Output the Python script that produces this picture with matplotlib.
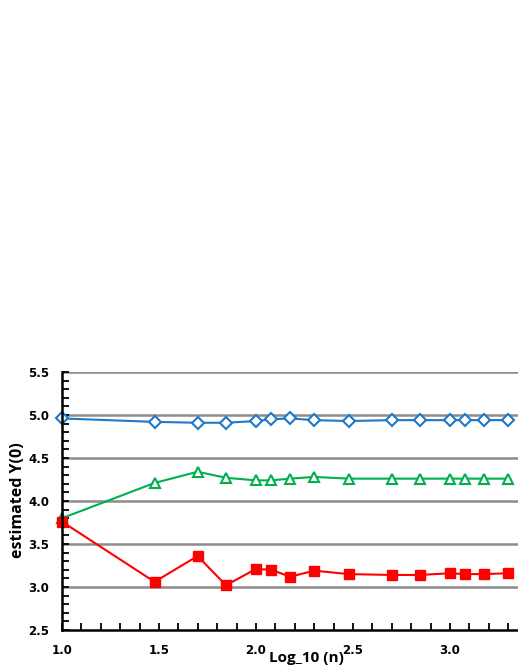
import numpy as np
import matplotlib
matplotlib.use("Agg")
import matplotlib.pyplot as plt
from matplotlib.ticker import MultipleLocator, FixedLocator, FormatStrFormatter

n_values = [10, 30, 50, 70, 100, 120, 150, 200, 300, 500, 700, 1000, 1200, 1500, 2000]
blue_vals = [4.96, 4.92, 4.91, 4.91, 4.93, 4.95, 4.96, 4.94, 4.93, 4.94, 4.94, 4.94, 4.94, 4.94, 4.94]
green_vals = [3.80, 4.21, 4.34, 4.27, 4.24, 4.24, 4.26, 4.28, 4.26, 4.26, 4.26, 4.26, 4.26, 4.26, 4.26]
red_vals = [3.76, 3.06, 3.36, 3.02, 3.21, 3.20, 3.12, 3.19, 3.15, 3.14, 3.14, 3.16, 3.15, 3.15, 3.16]
x_tick_labels = [1.0, 1.5, 2.0, 2.5, 3.0]

x_label = "Log_10 (n)"
y_label = "estimated Y(0)"

x = np.log10(n_values)

fig = plt.figure(figsize=(5.18, 6.70), dpi=100)
ax = fig.add_axes([62/518, 1-630/670, 485/518, (630-372)/670])

ax.set_xlim(1.0, 3.5)
ax.set_ylim(2.5, 5.5)

for yv in [3.0, 3.5, 4.0, 4.5, 5.0, 5.5]:
    ax.axhline(yv, color="#8c8c8c", lw=1.8, zorder=1)

ax.plot(x, green_vals, color="#00B050", lw=1.5, marker="^", ms=7.5,
        mfc="white", mec="#00B050", mew=1.5, zorder=3, clip_on=False)
ax.plot(x, blue_vals, color="#1f78c8", lw=1.5, marker="D", ms=6,
        mfc="white", mec="#1f78c8", mew=1.5, zorder=3, clip_on=False)
ax.plot(x, red_vals, color="#ff0000", lw=1.5, marker="s", ms=6.5,
        mfc="#ff0000", mec="#ff0000", zorder=4, clip_on=False)

for s in ["top", "right"]:
    ax.spines[s].set_visible(False)
for s in ["left", "bottom"]:
    ax.spines[s].set_linewidth(1.8)
    ax.spines[s].set_color("black")
    ax.spines[s].set_zorder(5)

ax.xaxis.set_major_locator(FixedLocator(x_tick_labels))
ax.xaxis.set_minor_locator(MultipleLocator(0.1))
ax.yaxis.set_major_locator(MultipleLocator(0.5))
ax.yaxis.set_minor_locator(MultipleLocator(0.1))
ax.tick_params(which="both", direction="in", length=5, width=1.3, color="black")
ax.tick_params(axis="x", which="major", pad=10)
ax.tick_params(axis="y", which="major", pad=9)
ax.xaxis.set_major_formatter(FormatStrFormatter("%.1f"))
ax.yaxis.set_major_formatter(FormatStrFormatter("%.1f"))
for lab in ax.get_xticklabels() + ax.get_yticklabels():
    lab.set_fontsize(8.5)
    lab.set_fontweight("bold")
    lab.set_family("DejaVu Sans")

fig.text(306/518, 1-658/670, x_label, ha="center", va="center",
         fontsize=11, fontweight="bold", family="Open Sans")
fig.text(18/518, 1-500/670, y_label, ha="center", va="center", rotation=90,
         fontsize=11.5, fontweight="bold", family="Open Sans")

fig.savefig("out.png", dpi=100)
